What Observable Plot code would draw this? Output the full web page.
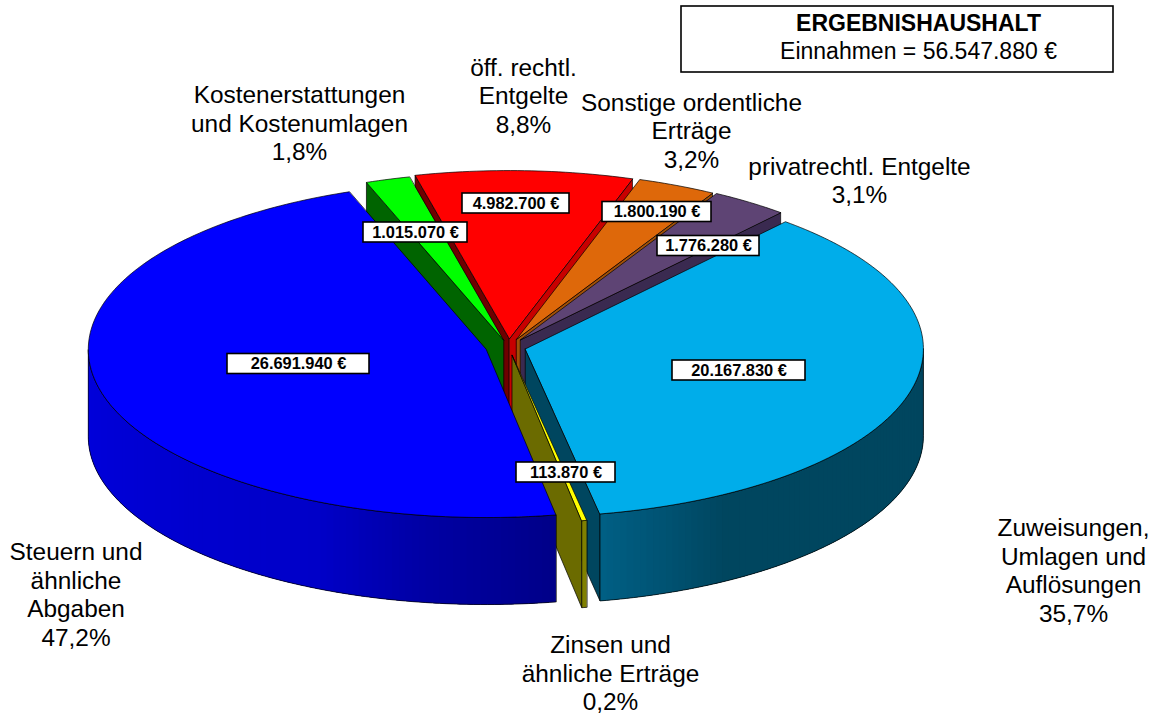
<!DOCTYPE html>
<html><head><meta charset="utf-8">
<script src="https://cdn.jsdelivr.net/npm/d3@7"></script>
<script src="https://cdn.jsdelivr.net/npm/@observablehq/plot@0.6"></script>
<style>html,body{margin:0;padding:0;background:#fff}svg{display:block}</style>
</head><body><div id="chart"></div>
<script>
// ---- data ----
const names = ["Zuweisungen,\nUmlagen und\nAuflösungen","Zinsen und\nähnliche Erträge","Steuern und\nähnliche\nAbgaben","Kostenerstattungen\nund Kostenumlagen","öff. rechtl.\nEntgelte","Sonstige ordentliche\nErträge","privatrechtl. Entgelte"];
const values = [20167830,113870,26691940,1015070,4982700,1800190,1776280];
const titleLines = ["ERGEBNISHAUSHALT","Einnahmen = 56.547.880 €"];

// ---- styles ----
const topColors = ["#00ADEA","#FFFF00","#0000FF","#00FF00","#FF0000","#DE680A","#5E4474"];
const startFaceColors = [null,null,null,"#006400","#6E0000",null,null];
const endFaceColors = ["#00465F","#6B6B00",null,null,"#C80000","#A05008","#3A2A50"];
const wallRamps = [
  [[90,"#00465F"],[150,"#00465F"],[169,"#005F85"]],
  [[169,"#808000"],[170,"#808000"]],
  [[170,"#000088"],[190,"#0000A6"],[205,"#0000C8"],[270,"#0000DC"]],
];

// ---- layout ----
const W = 1160, H = 717, cx = 508, cy = 346.5, rx = 398, ry = 168, depth = 87;
const startAngle = 40.8;
const explodeX = [17.5,20,23,17,20,20,21];
const paintOrder = [4,3,5,6,0,1,2];
const labelAt = [[1073,569.5],[610,672],[75.5,593.5],[299,122],[523,94.5],[691,129.5],[859,179.5]];
const boxAt = [[738.5,370,133],[565.5,472,99],[298,363.5,142],[415,232,104],[515.5,203,107],[656.5,211.5,109],[708,245.5,102]];
const boxH = 20;

// ---- derived geometry ----
const total = d3.sum(values);
const de = d3.formatLocale({decimal:",",thousands:".",grouping:[3],currency:["","€"]});
const euro = v => de.format(",.0f")(v) + " €";
const pct = v => (100*v/total).toFixed(1).replace(".",",") + "%";
let acc = startAngle;
const slices = values.map((v,i)=>{
  const t0 = acc; acc += 360*v/total;
  const t1 = acc, mid = (t0+t1)/2*Math.PI/180;
  const ax = cx + explodeX[i]*Math.sin(mid);
  const ay = cy - explodeX[i]*(ry/rx)*Math.cos(mid);
  return {i,t0,t1,ax,ay};
});
const rim = (s,t,dz=0)=>{const a=t*Math.PI/180;return [s.ax+rx*Math.sin(a), s.ay-ry*Math.cos(a)+dz];};
const polys = []; let pid = 0;
const add = (pts,fill,stroke)=>{const id=pid++;for(const [x,y] of pts)polys.push({x,y,id,fill,stroke});};
const rampColor = (ramp,t)=>{
  const sc = d3.scaleLinear().domain(ramp.map(d=>d[0])).range(ramp.map(d=>d[1])).interpolate(d3.interpolateRgb).clamp(true);
  return sc(t);
};
for (const k of paintOrder){
  const s = slices[k];
  const sinS = Math.sin(s.t0*Math.PI/180), sinE = Math.sin(s.t1*Math.PI/180);
  // cut faces
  if (sinS<0 && startFaceColors[k]) add([[s.ax,s.ay],rim(s,s.t0),rim(s,s.t0,depth),[s.ax,s.ay+depth]],startFaceColors[k],"#000");
  if (sinE>0 && endFaceColors[k]) add([[s.ax,s.ay],rim(s,s.t1),rim(s,s.t1,depth),[s.ax,s.ay+depth]],endFaceColors[k],"#000");
  // outer wall, in overlapping strips for the shading
  if (k<3){
    const a0=Math.max(s.t0,90), a1=Math.min(s.t1,270), n=Math.max(1,Math.ceil((a1-a0)/1));
    const ts=d3.range(n+1).map(j=>a0+(a1-a0)*j/n);
    for(let j=0;j<n;j++){
      const col=rampColor(wallRamps[k],(ts[j]+ts[j+1])/2);
      const end=Math.min(a1,ts[j+1]+2);
      const arc=d3.range(0,7).map(q=>ts[j]+(end-ts[j])*q/6);
      add([...arc.map(t=>rim(s,t)),...arc.slice().reverse().map(t=>rim(s,t,depth))],col,"none");
    }
    const outline=d3.range(n+1).map(j=>rim(s,ts[j]));
    const bottom=d3.range(n,-1,-1).map(j=>rim(s,ts[j],depth));
    add([...outline,...bottom],"none","#000");
  }
  // top
  const n=Math.max(2,Math.ceil(s.t1-s.t0));
  add([[s.ax,s.ay],...d3.range(n+1).map(j=>rim(s,s.t0+(s.t1-s.t0)*j/n))],topColors[k],"#000");
}
const boxes = values.map((v,i)=>({x1:boxAt[i][0]-boxAt[i][2]/2,x2:boxAt[i][0]+boxAt[i][2]/2,y1:boxAt[i][1]-boxH/2,y2:boxAt[i][1]+boxH/2,cx:boxAt[i][0],cy:boxAt[i][1],label:euro(v)}));
const labels = values.map((v,i)=>({x:labelAt[i][0],y:labelAt[i][1],text:names[i]+"\n"+pct(v)}));

const font = "Liberation Sans, Arial, sans-serif";
const plot = Plot.plot({
  width:W,height:H,margin:0,
  style:{background:"#fff",fontFamily:font},
  x:{domain:[0,W],range:[0,W],axis:null},
  y:{domain:[0,H],range:[0,H],axis:null},
  color:{type:"identity"},
  marks:[
    Plot.line(polys,{x:"x",y:"y",z:"id",fill:"fill",stroke:"stroke",strokeWidth:0.7,curve:"linear-closed",strokeLinejoin:"round"}),
    Plot.rect(boxes,{x1:"x1",x2:"x2",y1:"y1",y2:"y2",fill:"#fff",stroke:"#000",strokeWidth:1.6}),
    Plot.text(boxes,{x:"cx",y:"cy",text:"label",fontSize:16.4,fontWeight:"bold",fill:"#000"}),
    Plot.text(labels,{x:"x",y:"y",text:"text",fontSize:24.4,lineHeight:1.168,fill:"#000"}),
    Plot.rect([{}],{x1:()=>681,x2:()=>1113,y1:()=>6,y2:()=>72,fill:"#fff",stroke:"#000",strokeWidth:1.6}),
    Plot.text([titleLines[0]],{x:()=>918,y:()=>23.5,text:d=>d,fontSize:23,fontWeight:"bold",fill:"#000"}),
    Plot.text([titleLines[1]],{x:()=>918,y:()=>51.5,text:d=>d,fontSize:23,fill:"#000"}),
  ]
});
document.getElementById("chart").append(plot);
</script></body></html>
